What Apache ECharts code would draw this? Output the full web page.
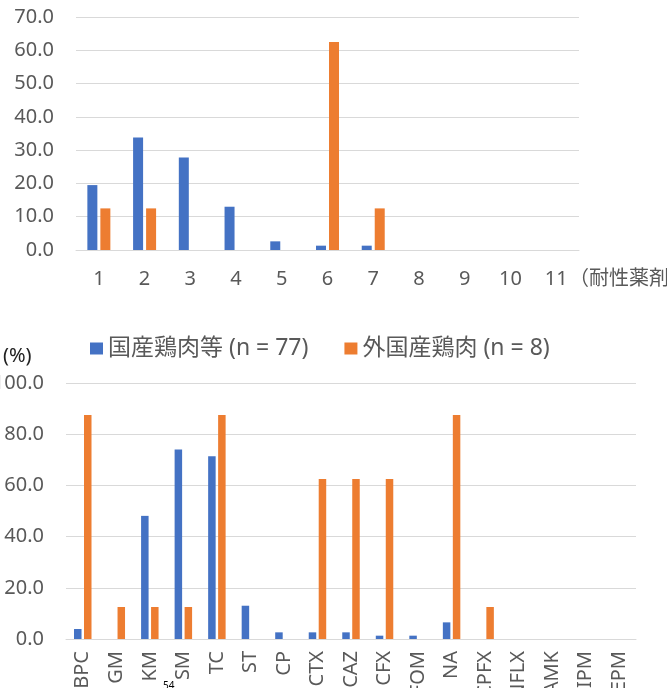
<!DOCTYPE html>
<html>
<head>
<meta charset="utf-8">
<script src="https://cdn.jsdelivr.net/npm/echarts@6/dist/echarts.min.js"></script>
<style>
html,body{margin:0;padding:0;background:#fff;}
#c{width:667px;height:688px;}
</style>
</head>
<body>
<div id="c"></div>
<script>
// Top chart: number of resistant drugs
const countCategories = ['1','2','3','4','5','6','7','8','9','10','11'];
const countDomestic = [19.5, 33.8, 27.8, 13.0, 2.6, 1.3, 1.3, 0, 0, 0, 0];
const countImported = [12.5, 12.5, 0, 0, 0, 62.5, 12.5, 0, 0, 0, 0];
const countTicks = [0, 10, 20, 30, 40, 50, 60, 70];

// Bottom chart: resistance rate by drug (%)
const drugCategories = ['ABPC','GM','KM','SM','TC','ST','CP','CTX','CAZ','CFX','FOM','NA','CPFX','NFLX','AMK','IPM','MEPM'];
const drugDomestic = [3.9, 0, 48.1, 74.0, 71.4, 13.0, 2.6, 2.6, 2.6, 1.3, 1.3, 6.5, 0, 0, 0, 0, 0];
const drugImported = [87.5, 12.5, 12.5, 12.5, 87.5, 0, 0, 62.5, 62.5, 62.5, 0, 87.5, 12.5, 0, 0, 0, 0];
const rateTicks = [0, 20, 40, 60, 80, 100];

const seriesNames = ['国産鶏肉等 (n = 77)', '外国産鶏肉 (n = 8)'];
const BLUE = '#4472C4', ORANGE = '#ED7D31', GRAY = '#595959', GRID = '#D9D9D9';
const FONT = '"Noto Sans", "Noto Sans CJK JP", sans-serif';

const chart = echarts.init(document.getElementById('c'));
chart.setOption({
  animation: false,
  textStyle: { fontFamily: FONT },
  color: [BLUE, ORANGE],
  legend: {
    data: seriesNames,
    left: 90, top: 337, padding: 0,
    itemWidth: 13, itemHeight: 12, itemGap: 36,
    icon: 'rect',
    selectedMode: false,
    textStyle: { color: GRAY, fontSize: 23, fontFamily: FONT }
  },
  grid: [
    { left: 76, top: 17, width: 503, height: 233, containLabel: false, outerBoundsMode: 'none' },
    { left: 66, top: 383, width: 570, height: 256, containLabel: false, outerBoundsMode: 'none' }
  ],
  xAxis: [
    {
      gridIndex: 0, type: 'category', data: countCategories,
      axisLine: { lineStyle: { color: GRID } }, axisTick: { show: false },
      axisLabel: { color: GRAY, fontSize: 20, margin: 19 }
    },
    {
      gridIndex: 1, type: 'category', data: drugCategories,
      axisLine: { lineStyle: { color: GRID } }, axisTick: { show: false },
      axisLabel: { color: GRAY, fontSize: 20, margin: 12, rotate: 90, interval: 0 }
    }
  ],
  yAxis: [
    {
      gridIndex: 0, type: 'value', min: countTicks[0], max: countTicks[countTicks.length-1], interval: 10,
      axisLine: { show: false }, axisTick: { show: false },
      splitLine: { lineStyle: { color: GRID } },
      axisLabel: { color: GRAY, fontSize: 20, margin: 22, formatter: v => v.toFixed(1) }
    },
    {
      gridIndex: 1, type: 'value', min: rateTicks[0], max: rateTicks[rateTicks.length-1], interval: 20,
      axisLine: { show: false }, axisTick: { show: false },
      splitLine: { lineStyle: { color: GRID } },
      axisLabel: { color: GRAY, fontSize: 20, margin: 22, formatter: v => v.toFixed(1) }
    }
  ],
  graphic: [
    { type: 'text', left: 569, top: 269, style: { text: '（耐性薬剤数）', fill: GRAY, font: '20px ' + FONT } },
    { type: 'text', left: 3, top: 346, style: { text: '(%)', fill: '#222', font: '20px ' + FONT } },
    { type: 'text', left: 163, top: 681, style: { text: '54', fill: '#000', font: '10px ' + FONT } }
  ],
  series: [
    { name: seriesNames[0], type: 'bar', xAxisIndex: 0, yAxisIndex: 0, data: countDomestic, barWidth: 10, barGap: '30%', itemStyle: { color: BLUE } },
    { name: seriesNames[1], type: 'bar', xAxisIndex: 0, yAxisIndex: 0, data: countImported, barWidth: 10, barGap: '30%', itemStyle: { color: ORANGE } },
    { name: seriesNames[0], type: 'bar', xAxisIndex: 1, yAxisIndex: 1, data: drugDomestic, barWidth: 7.5, barGap: '33%', itemStyle: { color: BLUE } },
    { name: seriesNames[1], type: 'bar', xAxisIndex: 1, yAxisIndex: 1, data: drugImported, barWidth: 7.5, barGap: '33%', itemStyle: { color: ORANGE } }
  ]
});
</script>
</body>
</html>
